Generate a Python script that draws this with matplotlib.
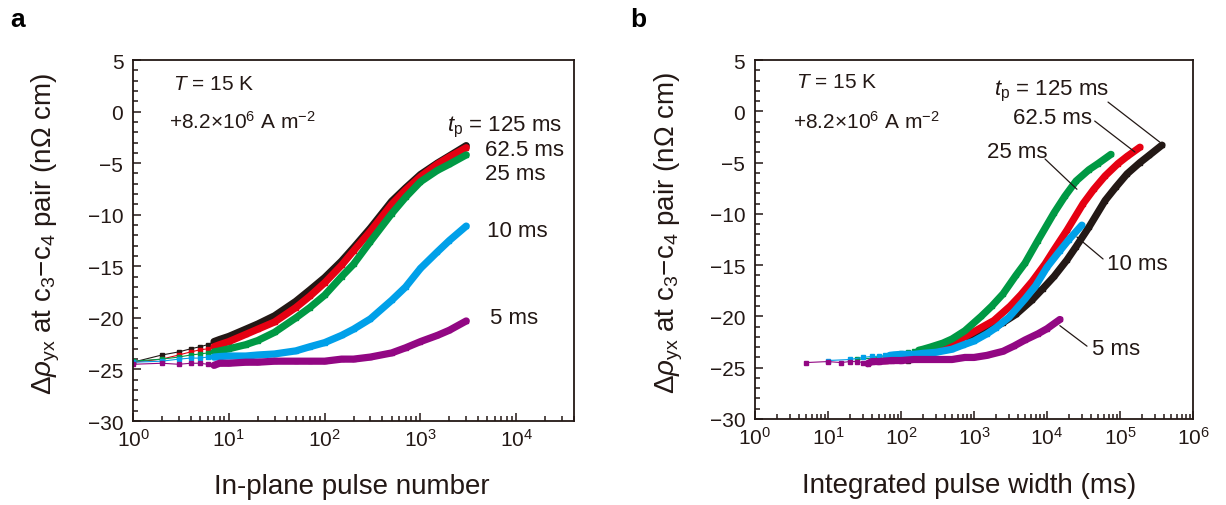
import numpy as np
import matplotlib
matplotlib.use('Agg')
import matplotlib.pyplot as plt
from matplotlib.ticker import LogLocator, MultipleLocator, NullFormatter

plt.rcParams['font.family'] = ['Liberation Sans', 'DejaVu Sans']
plt.rcParams['mathtext.fontset'] = 'custom'
plt.rcParams['mathtext.rm'] = 'Liberation Sans'
plt.rcParams['mathtext.it'] = 'Liberation Sans:italic'
plt.rcParams['mathtext.bf'] = 'Liberation Sans:bold'

INK = '#231815'

# ---------------- data ----------------
pulse_number = [1, 2, 3, 4, 5, 6, 7, 8, 10, 15, 20, 30, 50, 70, 100, 150,
                200, 300, 500, 700, 1000, 1500, 2000, 3000]

pulse_width_ms = [125, 62.5, 25, 10, 5]
series_labels = ['125 ms', '62.5 ms', '25 ms', '10 ms', '5 ms']
series_colors = ['#231815', '#e60012', '#009944', '#00a0e9', '#920783']

rho_125 = [-24.3, -23.6, -23.3, -23.0, -22.8, -22.6, -22.3, -22.1, -21.8, -21.1,
           -20.6, -19.8, -18.4, -17.3, -16.1, -14.5, -13.2, -11.3, -8.7, -7.4,
           -6.1, -5.0, -4.3, -3.3]
rho_62_5 = [-24.3, -24.0, -23.6, -23.3, -23.1, -23.0, -22.8, -22.6, -22.3, -21.6,
            -21.1, -20.4, -19.0, -17.9, -16.6, -14.9, -13.5, -11.6, -9.0, -7.6,
            -6.3, -5.1, -4.4, -3.5]
rho_25 = [-24.2, -24.0, -23.8, -23.6, -23.5, -23.4, -23.3, -23.2, -23.0, -22.6,
          -22.2, -21.4, -20.0, -19.0, -17.8, -16.0, -14.8, -12.6, -9.9, -8.3,
          -6.8, -5.7, -5.1, -4.2]
rho_10 = [-24.3, -24.2, -24.0, -23.9, -23.9, -23.8, -23.8, -23.75, -23.7, -23.7,
          -23.6, -23.5, -23.2, -22.8, -22.4, -21.7, -21.1, -20.1, -18.3, -17.0,
          -15.2, -13.6, -12.5, -11.1]
rho_5 = [-24.5, -24.4, -24.5, -24.4, -24.4, -24.5, -24.6, -24.4, -24.4, -24.3,
         -24.3, -24.2, -24.2, -24.2, -24.2, -24.0, -24.0, -23.8, -23.4, -22.9,
         -22.3, -21.7, -21.2, -20.3]

series_rho = [rho_125, rho_62_5, rho_25, rho_10, rho_5]

YLABEL = r'$\Delta\rho_{\mathrm{yx}}$ at c$_3$$-$c$_4$ pair (n$\Omega$ cm)'

# ---------------- figure ----------------
fig = plt.figure(figsize=(12.26, 5.06), dpi=100)
ax_a = fig.add_axes([0.1085, 0.166, 0.3597, 0.7134])
ax_b = fig.add_axes([0.6158, 0.170, 0.3573, 0.7094])


def style_axes(ax, xmax):
    ax.set_xscale('log')
    ax.set_xlim(1, xmax)
    ax.set_ylim(-30, 5)
    ax.yaxis.set_major_locator(MultipleLocator(5))
    ax.yaxis.set_minor_locator(MultipleLocator(1))
    ax.xaxis.set_major_locator(LogLocator(base=10, numticks=20))
    ax.xaxis.set_minor_locator(LogLocator(base=10, subs=np.arange(2, 10), numticks=20))
    ax.xaxis.set_minor_formatter(NullFormatter())
    for s in ax.spines.values():
        s.set_color(INK)
        s.set_linewidth(1.3)
    ax.tick_params(which='both', direction='in', top=False, right=False,
                   colors=INK, width=1.1, labelsize=15, labelcolor=INK)
    ax.tick_params(which='major', length=6)
    ax.tick_params(which='minor', length=3.5)
    ax.tick_params(axis='x', which='major', pad=5)
    ax.tick_params(axis='y', which='major', pad=7)
    ax.set_yticks([5, 0, -5, -10, -15, -20, -25, -30])
    ax.set_yticklabels(['5', '0', '\u22125', '\u221210', '\u221215', '\u221220',
                        '\u221225', '\u221230'])


def draw_series(ax, scale_by_width):
    for tp, rho, col in zip(pulse_width_ms, series_rho, series_colors):
        n = np.array(pulse_number, dtype=float)
        x = n * tp if scale_by_width else n
        y = np.array(rho)
        ax.plot(x, y, color=col, lw=0.8, marker='s', ms=3.4, mec=col, zorder=2)
        dense = n >= 7
        ax.plot(x[dense], y[dense], color=col, lw=5.2, solid_capstyle='round',
                solid_joinstyle='round', zorder=3)


def txt(ax, x, y, s, size=16):
    ax.text(x, y, s, transform=ax.transAxes, fontsize=size, va='center',
            ha='left', color=INK)


# ---------- panel a ----------
style_axes(ax_a, 4e4)
draw_series(ax_a, False)
ax_a.set_xlabel('In-plane pulse number', fontsize=20, color=INK)
ax_a.xaxis.set_label_coords(0.497, -0.143)
ax_a.set_ylabel(YLABEL, fontsize=20, color=INK)
ax_a.yaxis.set_label_coords(-0.16, 0.52)

txt(ax_a, 0.091, 0.934, r'$T$ = 15 K', 15)
txt(ax_a, 0.082, 0.831, r'+8.2$\times$10$^{6}$ A m$^{-2}$', 15)
txt(ax_a, 0.712, 0.817, r'$t_{\mathrm{p}}$ = 125 ms')
txt(ax_a, 0.798, 0.753, '62.5 ms')
txt(ax_a, 0.798, 0.687, '25 ms')
txt(ax_a, 0.803, 0.527, '10 ms')
txt(ax_a, 0.81, 0.288, '5 ms')

# ---------- panel b ----------
style_axes(ax_b, 1e6)
draw_series(ax_b, True)
ax_b.set_xlabel('Integrated pulse width (ms)', fontsize=20, color=INK)
ax_b.xaxis.set_label_coords(0.49, -0.149)
ax_b.set_ylabel(YLABEL, fontsize=20, color=INK)
ax_b.yaxis.set_label_coords(-0.16, 0.52)

txt(ax_b, 0.094, 0.94, r'$T$ = 15 K', 15)
txt(ax_b, 0.087, 0.83, r'+8.2$\times$10$^{6}$ A m$^{-2}$', 15)
txt(ax_b, 0.545, 0.915, r'$t_{\mathrm{p}}$ = 125 ms')
txt(ax_b, 0.588, 0.841, '62.5 ms')
txt(ax_b, 0.53, 0.744, '25 ms')
txt(ax_b, 0.804, 0.432, '10 ms')
txt(ax_b, 0.769, 0.195, '5 ms')

# leader lines (start near label, end at curve)
leaders = [((6.85e4, 0.9), (3.5e5, -3.0)),
           ((4.5e4, -0.95), (1.6e5, -3.97)),
           ((9.4e3, -4.65), (2.57e4, -7.6)),
           ((5.86e4, -14.4), (2.57e4, -12.26)),
           ((3.53e4, -22.9), (1.5e4, -20.9))]
for start, tip in leaders:
    ax_b.annotate('', xy=tip, xytext=start,
                  arrowprops=dict(arrowstyle='-', color=INK, lw=0.9,
                                  shrinkA=0, shrinkB=0), zorder=5)

fig.text(0.008, 0.96, 'a', fontsize=19, fontweight='bold', color='black',
         va='center', ha='left')
fig.text(0.514, 0.96, 'b', fontsize=19, fontweight='bold', color='black',
         va='center', ha='left')

fig.savefig('out.png', dpi=100)
